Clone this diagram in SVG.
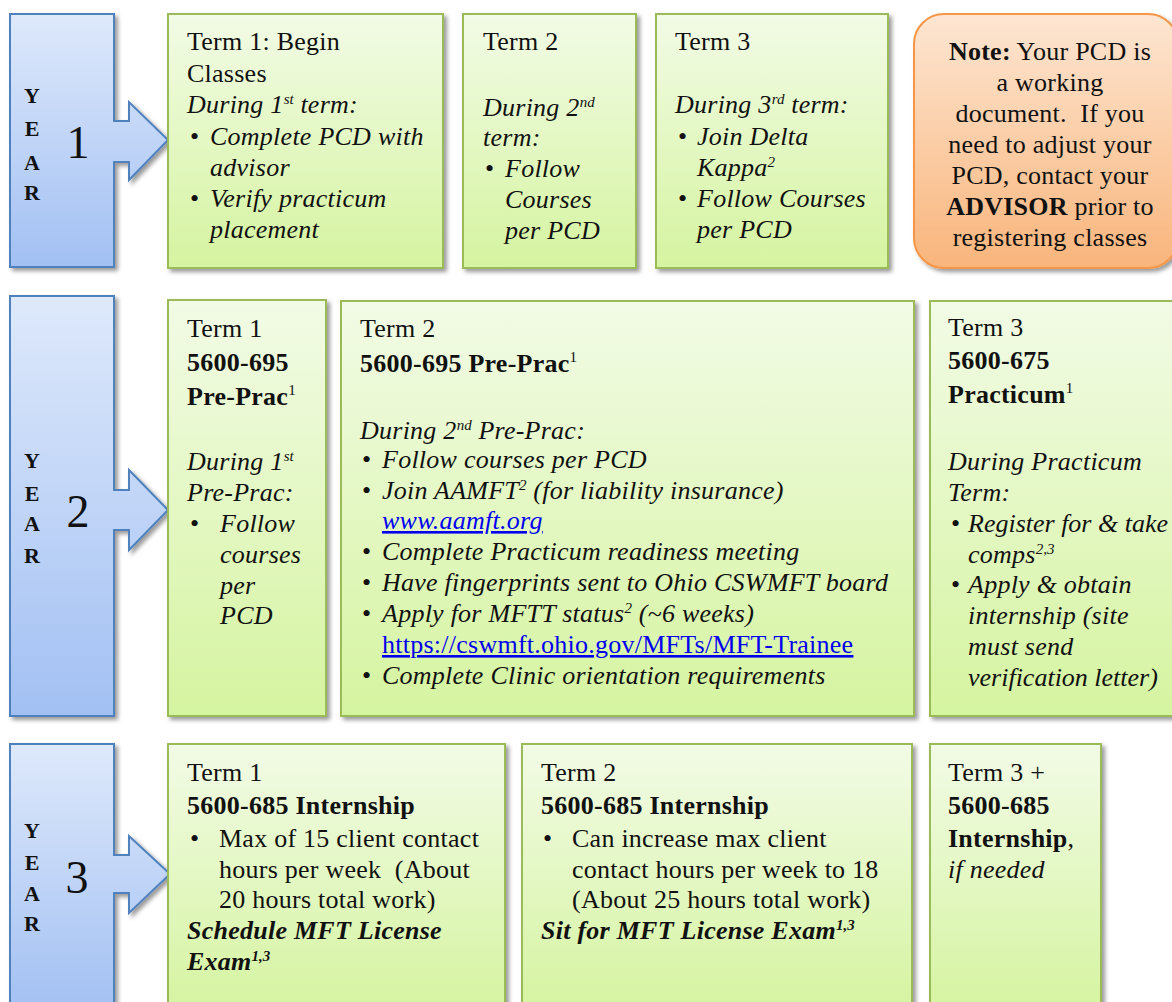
<svg xmlns="http://www.w3.org/2000/svg" width="1172" height="1002" viewBox="0 0 1172 1002">
<defs>
<linearGradient id="gGreen" x1="0" y1="0" x2="0" y2="1"><stop offset="0" stop-color="#f2fbe6"/><stop offset="1" stop-color="#d5f4a0"/></linearGradient>
<linearGradient id="gBlue" x1="0" y1="0" x2="0" y2="1"><stop offset="0" stop-color="#dee9fb"/><stop offset="1" stop-color="#a2c0f3"/></linearGradient>
<linearGradient id="gOrange" x1="0" y1="0" x2="0" y2="1"><stop offset="0" stop-color="#fde6d2"/><stop offset="1" stop-color="#f9b57c"/></linearGradient>
<filter id="sh" x="-10%" y="-10%" width="130%" height="130%"><feDropShadow dx="3" dy="3" stdDeviation="2" flood-color="#000" flood-opacity="0.4"/></filter>
</defs>
<style>
text{font-family:'Liberation Serif',serif;font-size:26px;fill:#111;letter-spacing:0.25px}
.green{fill:url(#gGreen);stroke:#9bbb59;stroke-width:2;filter:url(#sh)}
.blue{fill:url(#gBlue);stroke:#4f81bd;stroke-width:2;filter:url(#sh)}
.orange{fill:url(#gOrange);stroke:#f79646;stroke-width:2;filter:url(#sh)}
.i{font-style:italic}
.b{font-weight:bold}
.yl{font-weight:bold;font-size:22px;text-anchor:middle;letter-spacing:0}
.num{font-size:46px;text-anchor:middle;letter-spacing:0}
.lnk{fill:#0000ee;text-decoration:underline}
.c{text-anchor:middle}
.sup{font-size:15px;letter-spacing:0}
.tight{letter-spacing:0}
</style>

<g id="connectors"></g>

<g id="year1">
<path class="blue" d="M10,14 H114 V121 H129 V102 L168,140 L129,180 V162 H114 V267 H10 Z"/>
<text class="yl" x="32" y="103">Y</text><text class="yl" x="32" y="136">E</text><text class="yl" x="32" y="170">A</text><text class="yl" x="32" y="200">R</text>
<text class="num" x="78" y="158">1</text>
</g>
<g id="y1t1">
<rect class="green" x="168" y="14" width="275" height="254"/>
<text x="187" y="50">Term 1: Begin</text>
<text x="187" y="82">Classes</text>
<text class="i" x="187" y="113">During 1<tspan class="sup" dy="-9">st</tspan><tspan dy="9"> term:</tspan></text>
<text x="190" y="145">•</text><text class="i" x="210" y="145">Complete PCD with</text>
<text class="i" x="210" y="176">advisor</text>
<text x="190" y="207">•</text><text class="i" x="210" y="207">Verify practicum</text>
<text class="i" x="210" y="238">placement</text>
</g>
<g id="y1t2">
<rect class="green" x="463" y="14" width="173" height="254"/>
<text x="483" y="50">Term 2</text>
<text class="i" x="483" y="116">During 2<tspan class="sup" dy="-9">nd</tspan></text>
<text class="i" x="483" y="146">term:</text>
<text x="485" y="177">•</text><text class="i" x="505" y="177">Follow</text>
<text class="i" x="505" y="208">Courses</text>
<text class="i" x="505" y="239">per PCD</text>
</g>
<g id="y1t3">
<rect class="green" x="656" y="14" width="232" height="254"/>
<text x="675" y="50">Term 3</text>
<text class="i" x="675" y="113">During 3<tspan class="sup" dy="-9">rd</tspan><tspan dy="9"> term:</tspan></text>
<text x="678" y="145">•</text><text class="i" x="697" y="145">Join Delta</text>
<text class="i" x="697" y="176">Kappa<tspan class="sup" dy="-9">2</tspan></text>
<text x="678" y="207">•</text><text class="i" x="697" y="207">Follow Courses</text>
<text class="i" x="697" y="238">per PCD</text>
</g>
<g id="note">
<rect class="orange" x="914" y="14" width="264" height="254" rx="30" ry="30"/>
<text class="c" x="1050" y="60"><tspan class="b">Note:</tspan> Your PCD is</text>
<text class="c" x="1050" y="91">a working</text>
<text class="c" x="1050" y="122" xml:space="preserve">document.  If you</text>
<text class="c" x="1050" y="153">need to adjust your</text>
<text class="c" x="1050" y="184">PCD, contact your</text>
<text class="c" x="1050" y="215"><tspan class="b">ADVISOR</tspan> prior to</text>
<text class="c" x="1050" y="246">registering classes</text>
</g>

<g id="year2">
<path class="blue" d="M10,296 H114 V490 H129 V470 L168,510 L129,550 V530 H114 V716 H10 Z"/>
<text class="yl" x="32" y="468">Y</text><text class="yl" x="32" y="501">E</text><text class="yl" x="32" y="531">A</text><text class="yl" x="32" y="563">R</text>
<text class="num" x="78" y="527">2</text>
</g>
<g id="y2t1">
<rect class="green" x="168" y="300" width="158" height="416"/>
<text x="187" y="337">Term 1</text>
<text class="b" x="187" y="371">5600-695</text>
<text class="b" x="187" y="405">Pre-Prac<tspan class="sup" font-weight="normal" dy="-10">1</tspan></text>
<text class="i" x="187" y="470">During 1<tspan class="sup" dy="-9">st</tspan></text>
<text class="i" x="187" y="501">Pre-Prac:</text>
<text x="190" y="532">•</text><text class="i" x="220" y="532">Follow</text>
<text class="i" x="220" y="563">courses</text>
<text class="i" x="220" y="594">per</text>
<text class="i" x="220" y="624">PCD</text>
</g>
<g id="y2t2">
<rect class="green" x="341" y="301" width="573" height="415"/>
<text x="360" y="337">Term 2</text>
<text class="b" x="360" y="372">5600-695 Pre-Prac<tspan class="sup" font-weight="normal" dy="-10">1</tspan></text>
<text class="i" x="360" y="439">During 2<tspan class="sup" dy="-9">nd</tspan><tspan dy="9"> Pre-Prac:</tspan></text>
<text x="362" y="468">•</text><text class="i" x="382" y="468">Follow courses per PCD</text>
<text x="362" y="499">•</text><text class="i" x="382" y="499">Join AAMFT<tspan class="sup" dy="-9">2</tspan><tspan dy="9"> (for liability insurance)</tspan></text>
<text class="i lnk" x="382" y="529">www.aamft.org</text>
<text x="362" y="560">•</text><text class="i" x="382" y="560">Complete Practicum readiness meeting</text>
<text x="362" y="591">•</text><text class="i" x="382" y="591">Have fingerprints sent to Ohio CSWMFT board</text>
<text x="362" y="622">•</text><text class="i" x="382" y="622">Apply for MFTT status<tspan class="sup" dy="-9">2</tspan><tspan dy="9"> (~6 weeks)</tspan></text>
<text class="lnk" x="382" y="653">https://cswmft.ohio.gov/MFTs/MFT-Trainee</text>
<text x="362" y="684">•</text><text class="i" x="382" y="684">Complete Clinic orientation requirements</text>
</g>
<g id="y2t3">
<rect class="green" x="930" y="301" width="250" height="415"/>
<text x="948" y="336">Term 3</text>
<text class="b" x="948" y="369">5600-675</text>
<text class="b" x="948" y="403">Practicum<tspan class="sup" font-weight="normal" dy="-10">1</tspan></text>
<text class="i" x="948" y="470">During Practicum</text>
<text class="i" x="948" y="501">Term:</text>
<text x="951" y="532">•</text><text class="i tight" x="968" y="532">Register for &amp; take</text>
<text class="i" x="968" y="563">comps<tspan class="sup" dy="-9">2,3</tspan></text>
<text x="951" y="593">•</text><text class="i" x="968" y="593">Apply &amp; obtain</text>
<text class="i" x="968" y="624">internship (site</text>
<text class="i" x="968" y="655">must send</text>
<text class="i tight" x="968" y="686">verification letter)</text>
</g>

<g id="year3">
<path class="blue" d="M10,744 H114 V855 H129 V836 L170,874 L129,913 V893 H114 V1012 H10 Z"/>
<text class="yl" x="32" y="838">Y</text><text class="yl" x="32" y="870">E</text><text class="yl" x="32" y="901">A</text><text class="yl" x="32" y="931">R</text>
<text class="num" x="77" y="893">3</text>
</g>
<g id="y3t1">
<rect class="green" x="168" y="744" width="337" height="268"/>
<text x="187" y="781">Term 1</text>
<text class="b" x="187" y="814">5600-685 Internship</text>
<text x="190" y="847">•</text><text x="219" y="847">Max of 15 client contact</text>
<text x="219" y="878" xml:space="preserve">hours per week  (About</text>
<text x="219" y="908">20 hours total work)</text>
<text class="b i" x="187" y="939">Schedule MFT License</text>
<text class="b i" x="187" y="970">Exam<tspan class="sup" dy="-9">1,3</tspan></text>
</g>
<g id="y3t2">
<rect class="green" x="522" y="744" width="390" height="268"/>
<text x="541" y="781">Term 2</text>
<text class="b" x="541" y="814">5600-685 Internship</text>
<text x="543" y="847">•</text><text x="572" y="847">Can increase max client</text>
<text x="572" y="878">contact hours per week to 18</text>
<text x="572" y="908">(About 25 hours total work)</text>
<text class="b i" x="541" y="939">Sit for MFT License Exam<tspan class="sup" dy="-9">1,3</tspan></text>
</g>
<g id="y3t3">
<rect class="green" x="930" y="744" width="171" height="268"/>
<text x="948" y="781">Term 3 +</text>
<text class="b" x="948" y="814">5600-685</text>
<text x="948" y="847"><tspan class="b">Internship</tspan>,</text>
<text class="i" x="948" y="878">if needed</text>
</g>
</svg>
